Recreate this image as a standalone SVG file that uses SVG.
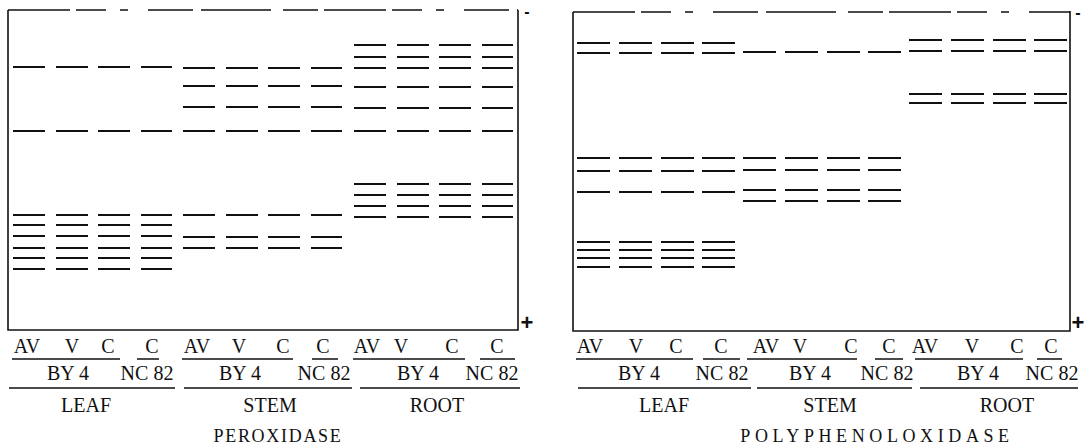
<svg xmlns="http://www.w3.org/2000/svg" xmlns:xlink="http://www.w3.org/1999/xlink" width="1086" height="445" viewBox="0 0 1086 445">
<style>
.bg{fill:#fff}
.frame{fill:none;stroke:#111;stroke-width:1.6}
.top{fill:none;stroke:#111;stroke-width:1.4;stroke-dasharray:62 6 30 14 8 20 45 8 70 12 35 6}
.band{fill:none;stroke:#111;stroke-width:2.2}
.ul{fill:none;stroke:#111;stroke-width:1.5}
text{fill:#111;text-anchor:middle}
</style>
<defs>
<path id="pl" d="M0 0h32M43 0h32M85 0h32M128 0h31"/>
<path id="pr" d="M0 0h33M42 0h33M84 0h33M125 0h33"/>
</defs>
<rect class="bg" width="1086" height="445"/>

<g id="peroxidase-gel">
<path class="frame" d="M8 10V330H518V10"/>
<path class="top" d="M8 10H518"/>
<g font-family="Liberation Sans, sans-serif" font-weight="bold">
<text x="527" y="17" font-size="16">-</text>
<text x="527" y="330" font-size="22">+</text>
</g>
<g id="perox-leaf" class="band">
<use xlink:href="#pl" x="13" y="67"/><use xlink:href="#pl" x="13" y="131"/>
<use xlink:href="#pl" x="13" y="215"/><use xlink:href="#pl" x="13" y="225"/>
<use xlink:href="#pl" x="13" y="236"/><use xlink:href="#pl" x="13" y="248"/>
<use xlink:href="#pl" x="13" y="258"/><use xlink:href="#pl" x="13" y="269"/>
</g>
<g id="perox-stem" class="band">
<use xlink:href="#pl" x="183" y="68"/><use xlink:href="#pl" x="183" y="86"/>
<use xlink:href="#pl" x="183" y="107"/><use xlink:href="#pl" x="183" y="131"/>
<use xlink:href="#pl" x="183" y="215"/><use xlink:href="#pl" x="183" y="237"/>
<use xlink:href="#pl" x="183" y="248"/>
</g>
<g id="perox-root" class="band">
<use xlink:href="#pl" x="354" y="45"/><use xlink:href="#pl" x="354" y="57"/>
<use xlink:href="#pl" x="354" y="68"/><use xlink:href="#pl" x="354" y="87"/>
<use xlink:href="#pl" x="354" y="108"/><use xlink:href="#pl" x="354" y="131"/>
<use xlink:href="#pl" x="354" y="184"/><use xlink:href="#pl" x="354" y="195"/>
<use xlink:href="#pl" x="354" y="206"/><use xlink:href="#pl" x="354" y="217"/>
</g>
<g id="perox-labels" font-family="Liberation Serif, serif" font-size="20">
<text x="27" y="353">AV</text><text x="72" y="353">V</text>
<text x="108" y="353">C</text><text x="152" y="353">C</text>
<text x="197" y="353">AV</text><text x="239" y="353">V</text>
<text x="283" y="353">C</text><text x="323" y="353">C</text>
<text x="367" y="353">AV</text><text x="401" y="353">V</text>
<text x="452" y="353">C</text><text x="497" y="353">C</text>
<path class="ul" d="M12 359H120M137 359H159M182 359H293M312 359H338M353 359H465M480 359H515"/>
<text x="68" y="380">BY 4</text><text x="147" y="380">NC 82</text>
<text x="240" y="380">BY 4</text><text x="324" y="380">NC 82</text>
<text x="418" y="380">BY 4</text><text x="492" y="380">NC 82</text>
<path class="ul" d="M9 388H175M184 388H352M360 388H520"/>
<text x="86" y="412">LEAF</text><text x="270" y="412">STEM</text>
<text x="437" y="412">ROOT</text>
<text x="278" y="442" font-size="18" letter-spacing="1.7">PEROXIDASE</text>
</g>
</g>

<g id="ppo-gel">
<path class="frame" d="M573 12V331H1070V11"/>
<path class="top" d="M573 12H1070"/>
<g font-family="Liberation Sans, sans-serif" font-weight="bold">
<text x="1078" y="18" font-size="16">-</text>
<text x="1078" y="330" font-size="22">+</text>
</g>
<g id="ppo-leaf" class="band">
<use xlink:href="#pr" x="577" y="43"/><use xlink:href="#pr" x="577" y="53"/>
<use xlink:href="#pr" x="577" y="158"/><use xlink:href="#pr" x="577" y="171"/>
<use xlink:href="#pr" x="577" y="192"/><use xlink:href="#pr" x="577" y="242"/>
<use xlink:href="#pr" x="577" y="250"/><use xlink:href="#pr" x="577" y="258"/>
<use xlink:href="#pr" x="577" y="267"/>
</g>
<g id="ppo-stem" class="band">
<use xlink:href="#pr" x="743" y="52"/><use xlink:href="#pr" x="743" y="158"/>
<use xlink:href="#pr" x="743" y="170"/><use xlink:href="#pr" x="743" y="190"/>
<use xlink:href="#pr" x="743" y="201"/>
</g>
<g id="ppo-root" class="band">
<use xlink:href="#pr" x="909" y="40"/><use xlink:href="#pr" x="909" y="51"/>
<use xlink:href="#pr" x="909" y="94"/><use xlink:href="#pr" x="909" y="103"/>
</g>
<g id="ppo-labels" font-family="Liberation Serif, serif" font-size="20">
<text x="590" y="353">AV</text><text x="636" y="353">V</text>
<text x="676" y="353">C</text><text x="721" y="353">C</text>
<text x="766" y="353">AV</text><text x="800" y="353">V</text>
<text x="851" y="353">C</text><text x="889" y="353">C</text>
<text x="925" y="353">AV</text><text x="972" y="353">V</text>
<text x="1017" y="353">C</text><text x="1051" y="353">C</text>
<path class="ul" d="M576 359H693M703 359H740M747 359H857M875 359H903M915 359H1023M1037 359H1062"/>
<text x="639" y="380">BY 4</text><text x="722" y="380">NC 82</text>
<text x="810" y="380">BY 4</text><text x="887" y="380">NC 82</text>
<text x="978" y="380">BY 4</text><text x="1052" y="380">NC 82</text>
<path class="ul" d="M578 388H751M757 388H912M920 388H1078"/>
<text x="664" y="412">LEAF</text><text x="830" y="412">STEM</text>
<text x="1007" y="412">ROOT</text>
<text x="877" y="442" font-size="18" letter-spacing="4.6">POLYPHENOLOXIDASE</text>
</g>
</g>
</svg>
